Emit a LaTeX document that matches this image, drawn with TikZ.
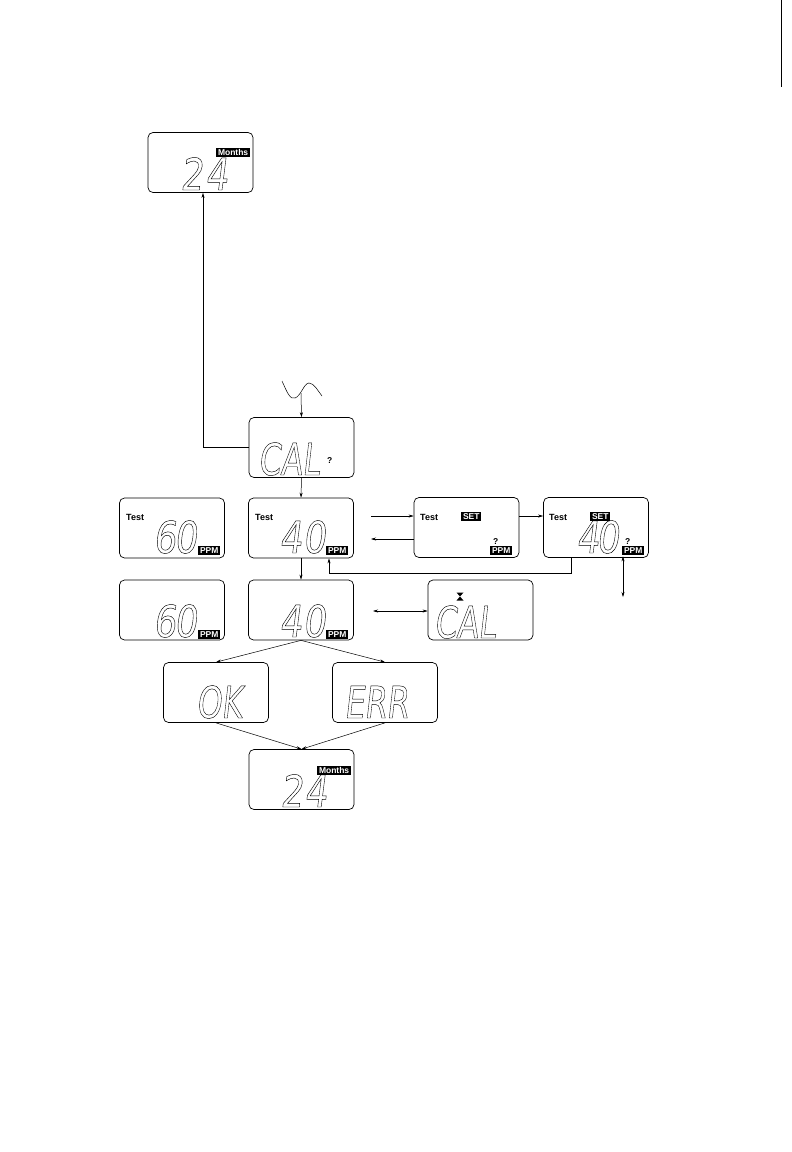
\documentclass[tikz,border=0pt]{standalone}
\usepackage{fontspec}
\setsansfont{Liberation Sans}
\newfontfamily\segfont[FakeSlant=0.14]{DejaVu Sans Condensed}
\usetikzlibrary{arrows.meta}
\newcommand\hollow[1]{\special{pdf:literal direct 1 Tr 0.45 w}#1\special{pdf:literal direct 0 Tr}}
\newcommand\narrow[1]{\scalebox{0.8}[1]{\hollow{#1}}}
\newcommand\digs[1]{\scalebox{0.9}[1]{\hollow{#1}}}
\tikzset{
  lcd/.style={draw, rounded corners=5pt, line width=0.7pt, minimum width=105pt, minimum height=60pt, inner sep=0pt},
  seg/.style={inner sep=0pt, anchor=base west, font=\segfont\fontsize{44}{44}\selectfont},
  lbl/.style={inner sep=0pt, anchor=base west, font=\sffamily\bfseries\fontsize{9}{9}\selectfont},
  qm/.style={inner sep=0pt, anchor=base west, font=\sffamily\bfseries\fontsize{8.5}{8.5}\selectfont},
  inv/.style={fill=black, text=white, inner xsep=1.8pt, inner ysep=1.5pt, anchor=base west, font=\sffamily\bfseries\fontsize{8.5}{8.5}\selectfont},
  conn/.style={line width=0.5pt},
  arr/.style={conn, -{Stealth[length=5pt,width=3pt]}},
  arrb/.style={conn, {Stealth[length=5pt,width=3pt]}-{Stealth[length=5pt,width=3pt]}},
}
\begin{document}
\begin{tikzpicture}[x=1pt,y=-1pt]
\useasboundingbox (0,0) rectangle (792,1152);
\draw[line width=0.4pt] (781,0) coordinate (e1) -- (781,87) coordinate (e2);
% boxes
\node[lcd] (top) at (200.5,162.5) {};
\node[lcd] (cal) at (301.5,447.5) {};
\node[lcd] (t60) at (172,528) {};
\node[lcd] (t40) at (301,528) {};
\node[lcd] (set1) at (466.5,527.5) {};
\node[lcd] (set2) at (596,527.5) {};
\node[lcd] (r60) at (172,610) {};
\node[lcd] (r40) at (301,610) {};
\node[lcd] (cal2) at (480.5,610) {};
\node[lcd] (ok) at (216,692.5) {};
\node[lcd] (err) at (385,692.5) {};
\node[lcd] (bot) at (301.5,779.5) {};
% top box
\node[inv] (topm) at (216,155.5) {Months};
\node[seg] (topd) at (180,190) {\digs{2\hspace{2.5pt}4}};
% cal box
\node[seg] (cald) at (258,475) {\narrow{CAL}};
\node[qm] (calq) at (327,463) {?};
% test 60
\node[lbl] (t60l) at (126,520) {Test};
\node[seg] (t60d) at (153,553) {\digs{6\hspace{-2pt}0}};
\node[inv] (t60p) at (198,553.5) {PPM};
% test 40
\node[lbl] (t40l) at (255,520) {Test};
\node[seg] (t40d) at (279,553) {\digs{4\hspace{1pt}0}};
\node[inv] (t40p) at (326,553.5) {PPM};
% set ?
\node[lbl] (s1l) at (420,520) {Test};
\node[inv] (s1s) at (461,519.5) {SET};
\node[qm] (s1q) at (493,544) {?};
\node[inv] (s1p) at (490,553.5) {PPM};
% set 40
\node[lbl] (s2l) at (549,520) {Test};
\node[inv] (s2s) at (590,519.5) {SET};
\node[seg] (s2d) at (576,553) {\digs{4\hspace{-3pt}0}};
\node[qm] (s2q) at (625,544) {?};
\node[inv] (s2p) at (622,553.5) {PPM};
% row 2
\node[seg] (r60d) at (153,637) {\digs{6\hspace{-2pt}0}};
\node[inv] (r60p) at (198,637) {PPM};
\node[seg] (r40d) at (279,637) {\digs{4\hspace{1pt}0}};
\node[inv] (r40p) at (326,637) {PPM};
\fill (456.5,592.5) -- (463.5,592.5) -- (460,596.5) -- cycle (456.5,600.5) -- (463.5,600.5) -- (460,596.5) -- cycle;
\coordinate (hg) at (460,596.5);
\node[seg] (cal2d) at (434,638) {\narrow{CAL}};
% ok / err
\node[seg] (okd) at (196,718) {\narrow{OK}};
\node[seg] (errd) at (344,718) {\narrow{ERR}};
% bottom
\node[inv] (botm) at (317,773.5) {Months};
\node[seg] (botd) at (280,807) {\digs{2\hspace{1.5pt}4}};
% connectors
\draw[arr] (cal.west) -| ([xshift=2.5pt]top.south);
\draw[conn] (282,381) coordinate (w0) .. controls (287,392) and (290,400) .. (295,398)
  .. controls (301,396) and (304,383) .. (309,383) coordinate (w2)
  .. controls (314,383) and (318,391) .. (322,396) coordinate (w3);
\coordinate (w1) at (301,393);
\draw[arr] (w1) -- (cal.north);
\draw[arr] (cal.south) -- (t40.north);
\draw[arr] (t40.south) -- (r40.north);
\coordinate (a1) at (371,516);
\coordinate (a2) at (371,539);
\draw[arr] (a1) -- (a1 -| set1.west);
\draw[arr] (a2 -| set1.west) -- (a2);
\draw[arr] (set1.east |- a1) -- (set2.west |- a1);
\draw[arr] ([xshift=-25pt]set2.south) -- ++(0,15) -| ([xshift=28pt]t40.south);
\coordinate (b1) at (623,597);
\draw[arrb] ([xshift=27pt,yshift=1.5pt]set2.south) -- (b1);
\coordinate (c1) at (373,611);
\draw[arrb] (c1) -- (c1 -| cal2.west);
\draw[arr] (r40.south) -- (ok.north);
\draw[arr] (r40.south) -- (err.north);
\draw[arr] (ok.south) -- (bot.north);
\draw[arr] (err.south) -- (bot.north);
\end{tikzpicture}
\end{document}
